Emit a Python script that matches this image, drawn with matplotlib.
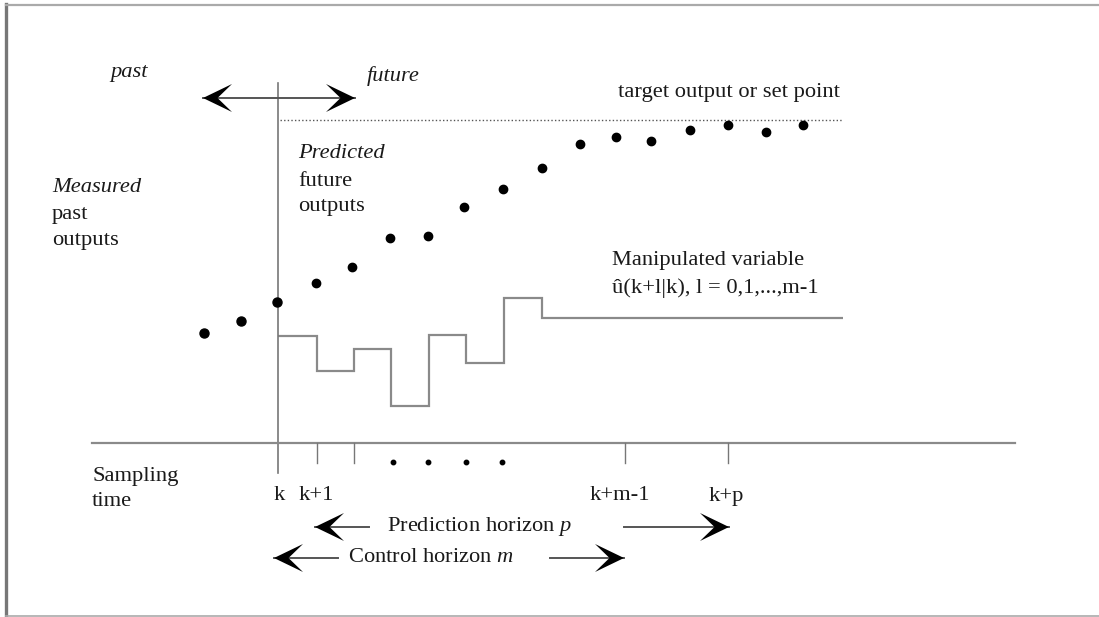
import matplotlib.pyplot as plt
from matplotlib.patches import Polygon

# schematic drawn in pixel coordinates of the original picture (y grows downward)
past_x = [204, 241, 277]
past_y = [333, 321, 302]
pred_x = [316, 352, 390, 428, 464, 503, 542, 580, 616, 651, 690, 728, 766, 803]
pred_y = [283, 267, 238, 236, 207, 189, 168, 144, 137, 141, 130, 125, 132, 125]
u_edges = [278, 317, 354, 391, 429, 466, 504, 542, 843]
u_levels = [336, 371, 349, 406, 335, 363, 298, 318]
setpoint_y = 120
tick_x = [317, 354, 625, 728]
gap_dots_x = [393, 428, 466, 502]
tick_labels = ["k", "k+1", "k+m-1", "k+p"]
tick_label_x = [279, 316, 620, 726]

plt.rcParams['font.family'] = ['Liberation Serif', 'DejaVu Serif']
plt.rcParams['mathtext.fontset'] = 'custom'
plt.rcParams['mathtext.it'] = 'Liberation Serif:italic'
plt.rcParams['mathtext.rm'] = 'Liberation Serif'

fig = plt.figure(figsize=(10.99, 6.17), dpi=100)
ax = fig.add_axes([0, 0, 1, 1])
ax.set_xlim(0, 1099)
ax.set_ylim(617, 0)
ax.axis('off')

TXT = '#1a1a1a'
FS = 16.2


def head(x, y, d, L=29, W=14):
    # chevron arrow head, d=+1 points right, d=-1 points left
    pts = [(x, y), (x - d * L, y - W), (x - d * L * 0.5, y), (x - d * L, y + W)]
    ax.add_patch(Polygon(pts, closed=True, color='black', lw=0, zorder=5))


def arrow(x0, x1, y, d):
    ax.plot([x0, x1], [y, y], color='#555555', lw=1.4)
    tip = x1 if d > 0 else x0
    head(tip, y, d)


# frame
ax.plot([6, 6], [4, 617], color='#777777', lw=2.4)
ax.plot([6, 1099], [5, 5], color='#aaaaaa', lw=1.6)
ax.plot([6, 1099], [616, 616], color='#aaaaaa', lw=1.2)

# present time line and sampling axis
ax.plot([278, 278], [83, 473], color='#777777', lw=1.2)
ax.plot([92, 1015], [443, 443], color='#8a8a8a', lw=1.6)
for tx in tick_x:
    ax.plot([tx, tx], [443, 463], color='#777777', lw=1.0)
ax.plot(gap_dots_x, [462] * len(gap_dots_x), 'o', color='black', ms=3.2, ls='none')

# set point
ax.plot([280, 842], [setpoint_y, setpoint_y], color='#555555', lw=1.0, ls=(0, (1, 1.6)))

# outputs
ax.plot(past_x, past_y, 'o', color='black', ms=6.5, ls='none')
ax.plot(pred_x, pred_y, 'o', color='black', ms=6, ls='none')

# manipulated variable
ax.stairs(u_levels, u_edges, color='#8a8a8a', lw=1.6, baseline=None)

# past / future arrow
arrow(203, 355, 98, -1)
head(355, 98, 1)

# horizons
arrow(315, 369, 527, -1)
arrow(624, 729, 527, 1)
arrow(274, 338, 558, -1)
arrow(550, 624, 558, 1)

# texts
ax.text(110, 73, 'past', style='italic', fontsize=FS, color=TXT, va='center')
ax.text(367, 76, 'future', style='italic', fontsize=FS, color=TXT, va='center')
ax.text(618, 93, 'target output or set point', fontsize=FS, color=TXT, va='center')
ax.text(298, 154, 'Predicted', style='italic', fontsize=FS, color=TXT, va='center')
ax.text(298, 181, 'future', fontsize=FS, color=TXT, va='center')
ax.text(298, 206, 'outputs', fontsize=FS, color=TXT, va='center')
ax.text(52, 188, 'Measured', style='italic', fontsize=FS, color=TXT, va='center')
ax.text(52, 215, 'past', fontsize=FS, color=TXT, va='center')
ax.text(52, 241, 'outputs', fontsize=FS, color=TXT, va='center')
ax.text(612, 261, 'Manipulated variable', fontsize=FS, color=TXT, va='center')
ax.text(612, 288, 'û(k+l|k), l = 0,1,...,m-1', fontsize=FS, color=TXT, va='center')
ax.text(92, 477, 'Sampling', fontsize=FS, color=TXT, va='center')
ax.text(92, 502, 'time', fontsize=FS, color=TXT, va='center')
for lx, lab in zip(tick_label_x, tick_labels):
    ax.text(lx, 496, lab, fontsize=FS, color=TXT, va='center', ha='center')
ax.text(387, 527, 'Prediction horizon $p$', fontsize=FS, color=TXT, va='center')
ax.text(348, 558, 'Control horizon $m$', fontsize=FS, color=TXT, va='center')

fig.savefig('out.png', dpi=100, facecolor='white')
